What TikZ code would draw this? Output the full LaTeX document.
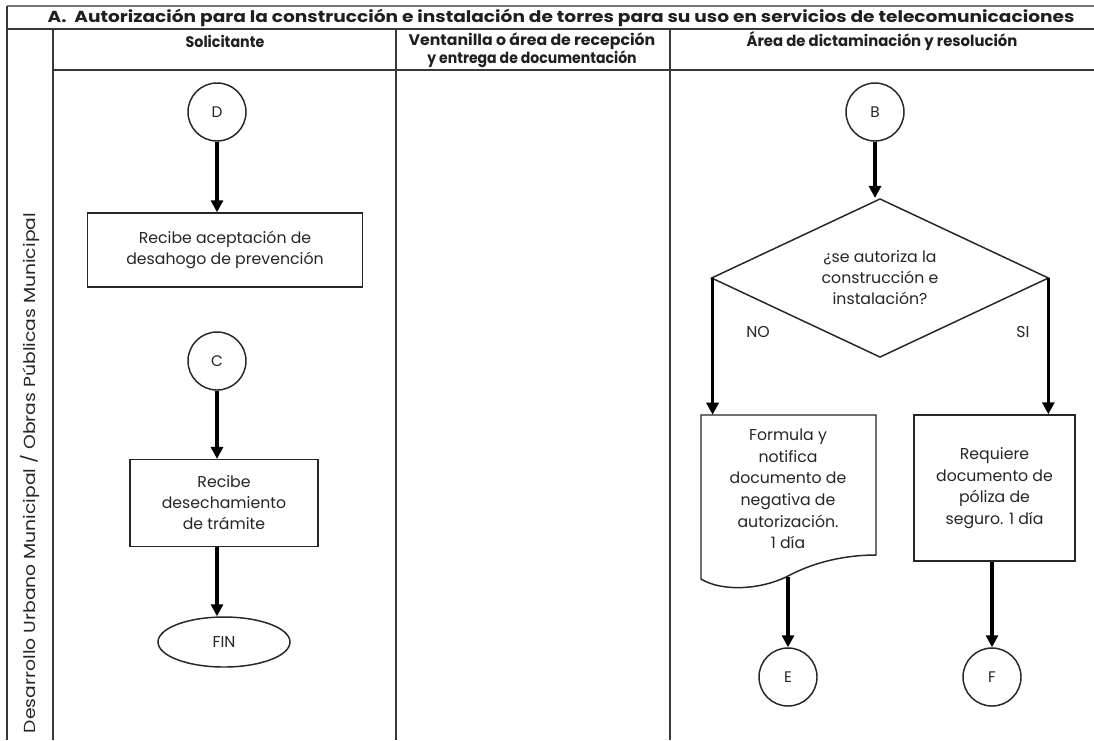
\documentclass[tikz,border=0pt]{standalone}
\usepackage{fontspec}
\setmainfont{Poppins}
\usepackage{graphicx}
\usetikzlibrary{shapes.geometric,arrows.meta,calc}
\newcommand{\bodyfnt}{\fontsize{11.8}{15.8}\selectfont}
\newcommand{\headfnt}{\bfseries\fontsize{11.5}{13.5}\selectfont}
\begin{document}
\begin{tikzpicture}[x=0.75pt,y=-0.75pt,
  tline/.style={line width=1.5pt,draw=black!78},
  shp/.style={draw=black!85,line width=1.1pt},
  conn/.style={circle,shp,minimum size=43.5pt,inner sep=0pt,text=black!85,font=\fontsize{11.5}{13}\selectfont},
  proc/.style={rectangle,shp,align=center,inner sep=2pt,text=black!85,font=\bodyfnt},
  lbl/.style={text=black!85,font=\bodyfnt,align=center},
  hdr/.style={text=black!88,align=center,inner sep=0pt},
  arr/.style={line width=2.3pt,draw=black,-{Triangle[length=9pt,width=9pt]}}]
\useasboundingbox (0,0) rectangle (1094,740);
\fill[white] (0,0) rectangle (1094,740);
% table
\draw[line width=2.2pt,draw=black!55] (7,6) -- (1094,6);
\draw[tline] (7,29) -- (1094,29);
\draw[tline] (7,6) -- (7,740);
\draw[tline] (53,29) -- (53,740);
\draw[tline] (53,70) -- (1094,70);
\draw[tline] (396,29) -- (396,740);
\draw[tline] (670,29) -- (670,740);
% title and headers
\node[hdr] (title) at (561,18) {\resizebox{770pt}{\height}{\bfseries\fontsize{12}{13}\selectfont A.\ \ Autorizaci\'on para la construcci\'on e instalaci\'on de torres para su uso en servicios de telecomunicaciones}};
\node[hdr] (h1) at (225,41) {\resizebox{59pt}{\height}{\headfnt Solicitante}};
\node[hdr] (h2a) at (532,41) {\resizebox{185pt}{\height}{\headfnt Ventanilla o \'area de recepci\'on}};
\node[hdr] (h2b) at (532,59) {\resizebox{157pt}{\height}{\headfnt y entrega de documentaci\'on}};
\node[hdr] (h3) at (882,41) {\resizebox{203pt}{\height}{\headfnt \'Area de dictaminaci\'on y resoluci\'on}};
\node[lbl,rotate=90] (lane) at (30,473) {\resizebox{390pt}{\height}{\fontsize{12}{14}\selectfont Desarrollo Urbano Municipal / Obras P\'ublicas Municipal}};
% left lane
\node[conn] (D) at (217,112) {D};
\node[proc,minimum width=206pt,minimum height=55.5pt] (b1) at (225,250) {Recibe aceptaci\'on de\\desahogo de prevenci\'on};
\node[conn] (C) at (217,361) {C};
\node[proc,minimum width=141pt,minimum height=65pt] (b2) at (224,503) {Recibe\\desechamiento\\de tr\'amite};
\node[ellipse,shp,minimum width=99pt,minimum height=37.5pt,inner sep=0pt,text=black!85,font=\bodyfnt] (fin) at (224,642) {FIN};
\draw[arr] (D) -- (D |- b1.north);
\draw[arr] (C) -- (C |- b2.north);
\draw[arr] (C |- b2.south) -- (C |- fin.north);
% right lane
\node[conn] (B) at (875,112) {B};
\node[diamond,shp,aspect=2.12,minimum width=253pt,minimum height=119pt,inner sep=0pt,lbl] (dia) at (880,278) {\textquestiondown se autoriza la\\construcci\'on e\\instalaci\'on?};
\node[lbl] (no) at (758,332) {NO};
\node[lbl] (si) at (1023,332) {SI};
\node[minimum width=131pt,minimum height=123pt,inner sep=0pt] (doc) at (788.5,497) {};
\draw[shp] (701,579) -- (701,415) -- (876,415) -- (876,555)
  .. controls (845,555) and (815,562) .. (790,575)
  .. controls (762,590) and (722,592) .. (701,579) -- cycle;
\node[lbl,font=\fontsize{11.8}{16.2}\selectfont] (doct) at (788,489) {Formula y\\notifica\\documento de\\negativa de\\autorizaci\'on.\\1 d\'ia};
\node[proc,minimum width=120.75pt,minimum height=109.5pt,font=\fontsize{11.8}{16.2}\selectfont] (req) at (994.5,488) {Requiere\\documento de\\p\'oliza de\\seguro. 1 d\'ia};
\node[conn] (E) at (788,677) {E};
\node[conn] (F) at (992,677) {F};
\draw[arr] (B) -- (B |- dia.north);
\draw[arr] ([xshift=1.5pt]dia.west) -- ([xshift=1.5pt]dia.west |- doc.north);
\draw[arr] ([xshift=-0.8pt]dia.east) -- ([xshift=-0.8pt]dia.east |- req.north);
\draw[arr] ([yshift=2pt]E |- doc.south) -- (E);
\draw[arr] (F |- req.south) -- (F);
\end{tikzpicture}
\end{document}
